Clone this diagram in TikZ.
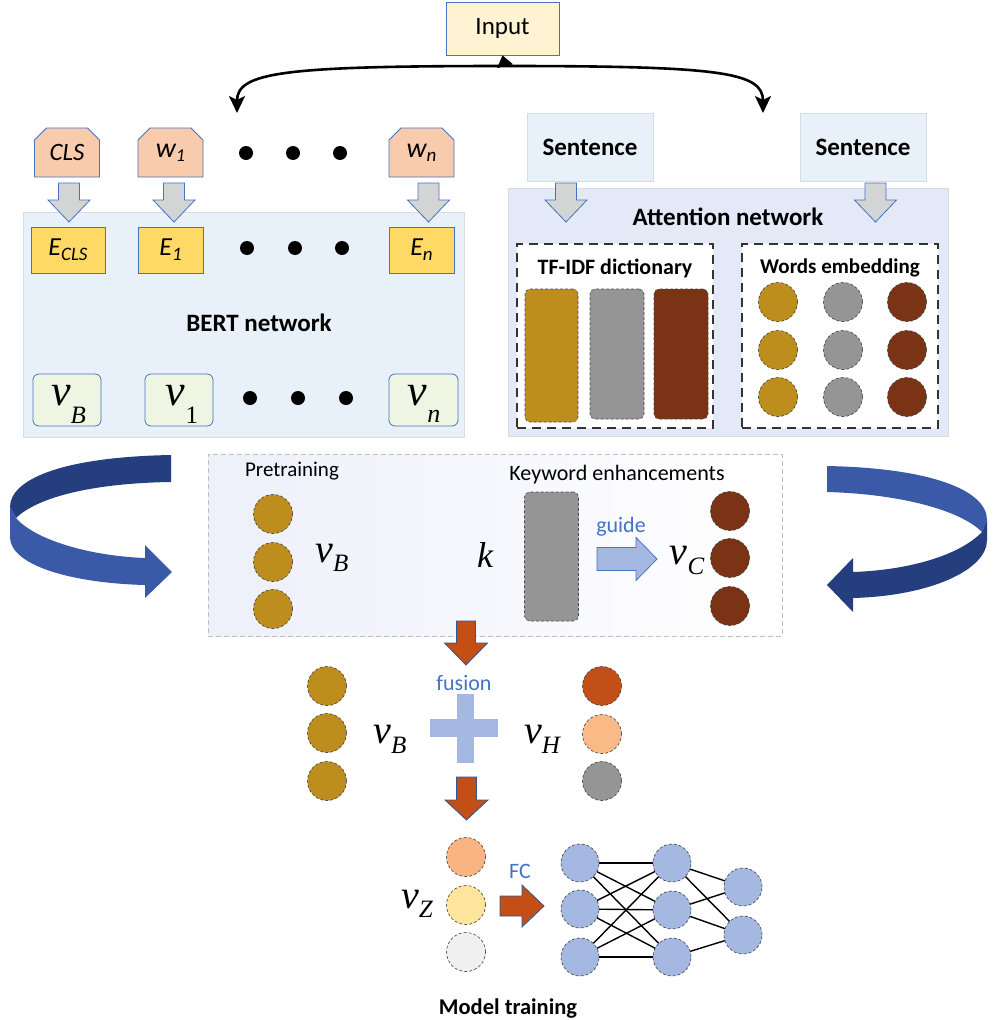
\documentclass[tikz,border=0pt]{standalone}
\usepackage{fontspec}
\setmainfont{Carlito}
\newfontfamily\tms{Liberation Serif}
\usetikzlibrary{shapes.misc,arrows.meta,calc}
\definecolor{bblue}{HTML}{4472C4}
\definecolor{peach}{HTML}{F8CBAD}
\definecolor{egold}{HTML}{FFD966}
\definecolor{vgreen}{HTML}{EEF6E3}
\definecolor{bertbg}{HTML}{E8F0FA}
\definecolor{attbg}{HTML}{E3E9F6}
\definecolor{lgborder}{HTML}{D6DCE4}
\definecolor{inputbg}{HTML}{FFF3D4}
\definecolor{cgold}{HTML}{BD8D1E}
\definecolor{cgray}{HTML}{959595}
\definecolor{cbrown}{HTML}{7A3314}
\definecolor{orng}{HTML}{C34E16}
\definecolor{darkbord}{HTML}{2F5597}
\definecolor{lblue}{HTML}{A4B8E2}
\definecolor{ribl}{HTML}{3A5AA8}
\definecolor{ribd}{HTML}{243E7E}
\definecolor{hred}{HTML}{C24F17}
\definecolor{hpeach}{HTML}{F9BA88}
\definecolor{zpeach}{HTML}{F8B483}
\definecolor{zyellow}{HTML}{FFE59B}
\definecolor{zgray}{HTML}{F0F0F0}
\definecolor{arrgray}{HTML}{D3D5D4}
\definecolor{midbg}{HTML}{EEF0FA}
\newcommand\fs[1]{\fontsize{#1}{#1}\selectfont}
% down block arrow: style, x, ytop, ytip, shaft half, head half, head length
\newcommand\dblock[7]{\draw[#1] ({#2-#5},#3) -- ({#2+#5},#3) -- ({#2+#5},{#4+#7}) -- ({#2+#6},{#4+#7}) -- (#2,#4) -- ({#2-#6},{#4+#7}) -- ({#2-#5},{#4+#7}) -- cycle;}
% right block arrow: style, yc, xleft, xtip, shaft half, head half, head length
\newcommand\rblock[7]{\draw[#1] (#3,{#2+#5}) -- ({#4-#7},{#2+#5}) -- ({#4-#7},{#2+#6}) -- (#4,#2) -- ({#4-#7},{#2-#6}) -- ({#4-#7},{#2-#5}) -- (#3,{#2-#5}) -- cycle;}
\begin{document}
\begin{tikzpicture}[x=1pt,y=1pt,
  tok/.style={chamfered rectangle, chamfered rectangle corners={north west,north east},
    chamfered rectangle xsep=6pt, chamfered rectangle ysep=6pt, draw=bblue, fill=peach,
    line width=0.8pt, inner sep=0pt, minimum width=65pt, minimum height=49pt, font=\fs{25}\itshape},
  ebox/.style={draw=bblue, fill=egold, line width=0.8pt, inner sep=0pt, minimum width=65pt, minimum height=46pt, font=\fs{26}\itshape},
  vbox/.style={draw=bblue, fill=vgreen, line width=0.8pt, rounded corners=6pt, inner sep=0pt, minimum width=68pt, minimum height=52pt},
  dot/.style={circle, fill=black, minimum size=14pt, inner sep=0pt},
  bgbox/.style={draw=lgborder, line width=0.8pt, inner sep=0pt},
  title/.style={font=\fs{25}\bfseries},
  small/.style={font=\fs{22}},
  bluetxt/.style={font=\fs{22}, text=bblue},
  ball/.style={circle, minimum size=39pt, inner sep=0pt, draw=black!75, dash pattern=on 3pt off 2pt, line width=0.6pt},
  bar/.style={rounded corners=5pt, draw=black!70, dash pattern=on 3pt off 2pt, line width=0.6pt, inner sep=0pt, minimum width=54pt},
  dbox/.style={draw=black!80, dash pattern=on 9pt off 6pt, line width=1.2pt, fill=white, inner sep=0pt},
  grayarr/.style={draw=bblue, fill=arrgray, line width=0.8pt},
  orarr/.style={draw=darkbord, fill=orng, line width=0.8pt},
  lbarr/.style={draw=bblue, fill=lblue, line width=0.8pt},
  conn/.style={line width=2.6pt, -{Stealth[length=17pt,width=16pt,inset=4pt]}},
  nn/.style={circle, minimum size=38pt, inner sep=0pt, fill=lblue, draw=black!75, dash pattern=on 3pt off 2pt, line width=0.6pt},
  nnl/.style={line width=1.4pt, black},
  vl/.style={anchor=base, inner sep=0pt}
]
\useasboundingbox (0,0) rectangle (995,-1020);

% ---------- background boxes ----------
\node[bgbox, fill=bertbg, minimum width=441pt, minimum height=225pt] (bert) at (243.5,-324.5) {};
\node[bgbox, fill=attbg, minimum width=440pt, minimum height=248pt] (att) at (728,-312) {};
\node[bgbox, fill=bertbg, minimum width=126pt, minimum height=68pt, title] (s1) at (590,-147) {Sentence};
\node[bgbox, fill=bertbg, minimum width=126pt, minimum height=68pt, title] (s2) at (863,-147) {Sentence};
\node[draw=black!25, dash pattern=on 5pt off 3pt, line width=0.8pt, left color=midbg, right color=white, inner sep=0pt,
  minimum width=574pt, minimum height=182pt] (mid) at (495,-545) {};

% ---------- input ----------
\node[draw=bblue, fill=inputbg, line width=0.8pt, minimum width=113pt, minimum height=53pt, inner sep=0pt, font=\fs{25}] (in) at (502.5,-28.5) {Input};
\coordinate (jn) at (505,-66);
\coordinate (lt) at (237,-113);
\coordinate (rt) at (763,-113);
\draw[conn] (jn) .. controls (285,-66) and (237,-72) .. (lt);
\draw[conn] (jn) .. controls (720,-66) and (763,-72) .. (rt);
\draw[line width=0.5pt, -{Triangle[length=11pt,width=16pt]}] (jn) -- (in.south);

% ---------- BERT side ----------
\node[tok] (cls) at (67,-152.5) {CLS};
\node[tok] (w1) at (170.5,-152.5) {\fs{28}w\raisebox{-4pt}{\fs{18}\itshape 1}};
\node[tok] (wn) at (421.5,-152.5) {\fs{28}w\raisebox{-4pt}{\fs{19}\itshape n}};
\node[dot] (td1) at (246,-153) {};
\node[dot] (td2) at (293,-153) {};
\node[dot] (td3) at (340,-153) {};

\dblock{grayarr}{69}{-183}{-222}{10.5}{21}{22}
\dblock{grayarr}{174}{-183}{-222}{10.5}{21}{22}
\dblock{grayarr}{428.5}{-183}{-222}{10.5}{21}{22}

\node[ebox, minimum width=74pt] (ecls) at (68,-250) {E\raisebox{-5pt}{\fs{19}\itshape CLS}};
\node[ebox] (e1) at (170.5,-250) {E\raisebox{-5pt}{\fs{19}\itshape 1}};
\node[ebox] (en) at (421.5,-250) {E\raisebox{-5pt}{\fs{19}\itshape n}};
\node[dot] (ed1) at (247,-248) {};
\node[dot] (ed2) at (295,-248) {};
\node[dot] (ed3) at (342,-248) {};

\node[title] (berttxt) at (259,-323) {BERT network};

\node[vbox] (vbB) at (67,-400) {};
\node[vbox] (vb1) at (179,-400) {};
\node[vbox, minimum width=69pt] (vbn) at (423.5,-400) {};
\node[vl] (lvB) at (68.5,-405) {\tms\fs{44}\itshape v\raisebox{-18pt}{\fs{25}B}};
\node[vl] (lv1) at (182,-405) {\tms\fs{44}\itshape v\raisebox{-18pt}{\fs{25}\upshape 1}};
\node[vl] (lvn) at (424,-405) {\tms\fs{44}\itshape v\raisebox{-17pt}{\fs{26}n}};
\node[dot] (vd1) at (250,-398) {};
\node[dot] (vd2) at (298,-398) {};
\node[dot] (vd3) at (346,-398) {};

% ---------- Attention side ----------
\dblock{grayarr}{566}{-183}{-222}{10.5}{21}{22}
\dblock{grayarr}{875.5}{-183}{-222}{10.5}{21}{22}
\node[title] (atttxt) at (728,-217) {Attention network};
\node[dbox, minimum width=196pt, minimum height=184pt] (tfbox) at (615,-336) {};
\node[dbox, minimum width=196pt, minimum height=184pt] (webox) at (840,-336) {};
\node[font=\fs{22}\bfseries] (tftxt) at (615,-268) {TF-IDF dictionary};
\node[font=\fs{21}\bfseries] (wetxt) at (840,-268) {Words embedding};
\node[bar, fill=cgold, minimum width=53pt, minimum height=133pt] (bar1) at (551.5,-355.5) {};
\node[bar, fill=cgray, minimum height=130pt] (bar2) at (617,-354) {};
\node[bar, fill=cbrown, minimum height=130pt] (bar3) at (681,-354) {};
\foreach \r/\y in {1/302,2/350,3/397}{
  \node[ball, fill=cgold] (wa\r) at (778,-\y) {};
  \node[ball, fill=cgray] (wb\r) at (843,-\y) {};
  \node[ball, fill=cbrown] (wc\r) at (907,-\y) {};
}

% ---------- ribbons ----------
\fill[ribd] (171,-455) .. controls (60,-457) and (10,-480) .. (10,-507) -- (16,-518)
  .. controls (40,-495) and (100,-483) .. (171,-482) -- cycle;
\fill[ribl] (10,-507) -- (16,-518) .. controls (35,-540) and (90,-556) .. (145,-558)
  -- (145,-545) -- (172,-572) -- (145,-598) -- (145,-585)
  .. controls (70,-583) and (10,-565) .. (10,-537) -- cycle;
\fill[ribl] (827,-466) .. controls (930,-468) and (987,-490) .. (987,-520) -- (982,-532)
  .. controls (960,-510) and (900,-494) .. (827,-492) -- cycle;
\fill[ribd] (982,-532) .. controls (960,-555) and (910,-570) .. (853,-572)
  -- (853,-558) -- (827,-585) -- (853,-612) -- (853,-598)
  .. controls (930,-596) and (987,-570) .. (987,-540) -- (987,-520) -- cycle;

% ---------- middle box ----------
\node[font=\fs{21}] (pretxt) at (292,-471) {Pretraining};
\foreach \r/\y in {1/514,2/562,3/609}{ \node[ball, fill=cgold] (pb\r) at (273,-\y) {}; }
\node[vl] (lvBm) at (332,-562) {\tms\fs{40}\itshape v\raisebox{-9pt}{\fs{25}B}};
\node[vl] (lk) at (485,-567) {\tms\fs{36}\itshape k};
\node[font=\fs{22}] (kwtxt) at (617,-475) {Keyword enhancements};
\node[bar, fill=cgray, minimum height=129pt] (kbar) at (551.5,-556.5) {};
\node[bluetxt] (guide) at (621,-527) {guide};
\rblock{lbarr}{-559}{597}{657}{11.5}{21.5}{21}
\node[vl] (lvC) at (687,-564) {\tms\fs{40}\itshape v\raisebox{-10pt}{\fs{25}C}};
\foreach \r/\y in {1/511,2/558,3/606}{ \node[ball, fill=cbrown] (cb\r) at (730,-\y) {}; }

% ---------- fusion ----------
\dblock{orarr}{466}{-621}{-665}{9.5}{21.5}{22}
\node[bluetxt] (fusion) at (464,-683) {fusion};
\fill[lblue] (457,-694) rectangle (474,-763);
\fill[lblue] (430,-719) rectangle (498,-737);
\foreach \r/\y in {1/686,2/733,3/781}{ \node[ball, fill=cgold] (fb\r) at (327,-\y) {}; }
\node[ball, fill=hred] (h1) at (602,-686) {};
\node[ball, fill=hpeach] (h2) at (602,-734) {};
\node[ball, fill=cgray] (h3) at (602,-781) {};
\node[vl] (lvBf) at (390,-743) {\tms\fs{40}\itshape v\raisebox{-10pt}{\fs{25}B}};
\node[vl] (lvH) at (542,-743) {\tms\fs{40}\itshape v\raisebox{-10pt}{\fs{25}H}};
\dblock{orarr}{466.5}{-777}{-820}{10}{21.5}{20}

% ---------- model training ----------
\node[ball, fill=zpeach] (z1) at (466,-857) {};
\node[ball, fill=zyellow] (z2) at (466,-905) {};
\node[ball, fill=zgray] (z3) at (466,-952) {};
\node[vl] (lvZ) at (417,-908) {\tms\fs{40}\itshape v\raisebox{-9pt}{\fs{25}Z}};
\node[bluetxt] (fc) at (520,-871) {FC};
\rblock{orarr}{-906}{500}{544}{10}{21}{22}

\coordinate (a1) at (580,-863); \coordinate (a2) at (580,-909); \coordinate (a3) at (580,-957);
\coordinate (b1) at (672,-863); \coordinate (b2) at (672,-910); \coordinate (b3) at (672,-957);
\coordinate (c1) at (743,-887); \coordinate (c2) at (743,-935);
\foreach \i in {1,2,3}{ \foreach \j in {1,2,3}{ \draw[nnl] (a\i) -- (b\j); } }
\draw[nnl] (b1) -- (c1); \draw[nnl] (b1) -- (c2);
\draw[nnl] (b2) -- (c1); \draw[nnl] (b2) -- (c2);
\draw[nnl] (b3) -- (c2);
\foreach \n in {a1,a2,a3,b1,b2,b3,c1,c2}{ \node[nn] (n\n) at (\n) {}; }

\node[anchor=base, font=\fs{22.5}\bfseries] (mtxt) at (508,-1014) {Model training};
\end{tikzpicture}
\end{document}
